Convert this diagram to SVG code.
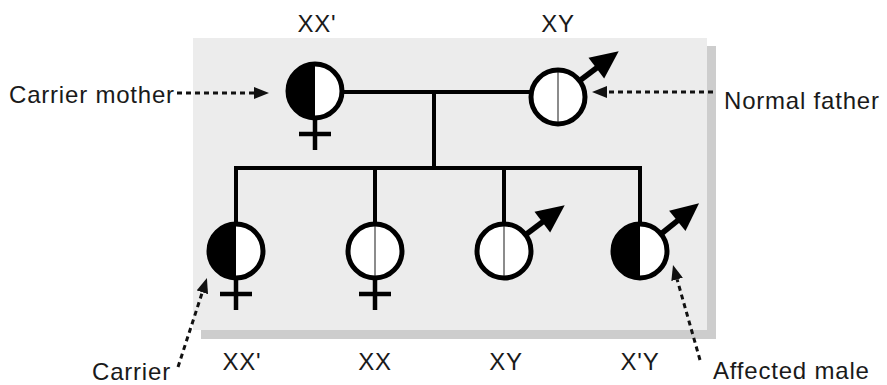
<svg xmlns="http://www.w3.org/2000/svg" xmlns:xlink="http://www.w3.org/1999/xlink" width="887" height="385" viewBox="0 0 887 385">
<style>
.lbl{font-family:"Liberation Sans",Arial,sans-serif;font-size:24px;fill:#1a1a1a;letter-spacing:0.8px}
.mid{text-anchor:middle}
.ring{fill:none;stroke:#000;stroke-width:5}
.half{fill:#000}
.mid-line{stroke:#666;stroke-width:1.5}
.line{stroke:#000;stroke-width:4;fill:none}
.dash{stroke:#111;stroke-width:3;stroke-dasharray:5 4;fill:none}
</style>
<defs>
<marker id="head" markerUnits="userSpaceOnUse" markerWidth="16" markerHeight="12" refX="0" refY="6" orient="auto">
<path d="M0,0 L15,6 L0,12 Z" fill="#111"/>
</marker>
<g id="maleArrow">
<line x1="27" y1="0" x2="52" y2="0" stroke="#000" stroke-width="5.5"/>
<path d="M76,0 L48,-13 L48,13 Z" fill="#000"/>
</g>
<g id="femaleCross">
<line x1="0" y1="29" x2="0" y2="59" stroke="#000" stroke-width="4.5"/>
<line x1="-16" y1="43" x2="16" y2="43" stroke="#000" stroke-width="4.5"/>
</g>
</defs>

<g id="panel">
<rect x="201" y="46" width="515" height="293" fill="#cdcdcd"/>
<rect x="193" y="38" width="514" height="292" fill="#ececec"/>
</g>

<g id="connectors">
<line class="line" x1="342" y1="92" x2="531" y2="92"/>
<line class="line" x1="434" y1="92" x2="434" y2="168"/>
<line class="line" x1="235" y1="168" x2="641" y2="168"/>
<line class="line" x1="236" y1="166" x2="236" y2="224"/>
<line class="line" x1="375" y1="166" x2="375" y2="224"/>
<line class="line" x1="504" y1="166" x2="504" y2="224"/>
<line class="line" x1="640" y1="166" x2="640" y2="224"/>
<line class="dash" x1="177" y1="93" x2="254" y2="93" marker-end="url(#head)"/>
<line class="dash" x1="713" y1="92" x2="607" y2="92" marker-end="url(#head)"/>
<line class="dash" x1="178" y1="367" x2="202.3" y2="292.3" marker-end="url(#head)"/>
<line class="dash" x1="700" y1="360" x2="677.1" y2="279.4" marker-end="url(#head)"/>
</g>

<g id="carrier-mother" transform="translate(315,91)">
<circle r="27" fill="#fff"/>
<path class="half" d="M0,-27 A27,27 0 0 0 0,27 Z"/>
<circle class="ring" r="27"/>
<use xlink:href="#femaleCross"/>
</g>

<g id="normal-father" transform="translate(558,97)">
<circle r="27" fill="#fff"/>
<line class="mid-line" x1="0" y1="-27" x2="0" y2="27"/>
<circle class="ring" r="27"/>
<use xlink:href="#maleArrow" transform="rotate(-37)"/>
</g>

<g id="child-carrier" transform="translate(236,251)">
<circle r="27" fill="#fff"/>
<path class="half" d="M0,-27 A27,27 0 0 0 0,27 Z"/>
<circle class="ring" r="27"/>
<use xlink:href="#femaleCross"/>
</g>

<g id="child-normal-female" transform="translate(375,251)">
<circle r="27" fill="#fff"/>
<line class="mid-line" x1="0" y1="-27" x2="0" y2="27"/>
<circle class="ring" r="27"/>
<use xlink:href="#femaleCross"/>
</g>

<g id="child-normal-male" transform="translate(504,251)">
<circle r="27" fill="#fff"/>
<line class="mid-line" x1="0" y1="-27" x2="0" y2="27"/>
<circle class="ring" r="27"/>
<use xlink:href="#maleArrow" transform="rotate(-37)"/>
</g>

<g id="child-affected-male" transform="translate(640,251)">
<circle r="27" fill="#fff"/>
<path class="half" d="M0,-27 A27,27 0 0 0 0,27 Z"/>
<circle class="ring" r="27"/>
<use xlink:href="#maleArrow" transform="rotate(-39)"/>
</g>

<g id="labels">
<text class="lbl" x="9" y="103">Carrier mother</text>
<text class="lbl" x="724" y="109">Normal father</text>
<text class="lbl mid" x="317" y="32">XX'</text>
<text class="lbl mid" x="558" y="32">XY</text>
<text class="lbl mid" x="242" y="370">XX'</text>
<text class="lbl mid" x="375" y="370">XX</text>
<text class="lbl mid" x="506" y="370">XY</text>
<text class="lbl mid" x="640" y="370">X'Y</text>
<text class="lbl" x="92" y="380">Carrier</text>
<text class="lbl" x="713" y="379">Affected male</text>
</g>
</svg>
